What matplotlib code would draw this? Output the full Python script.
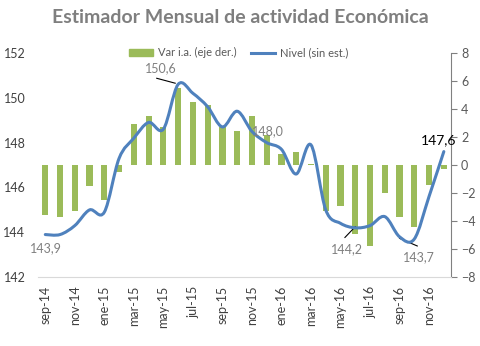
import numpy as np
import matplotlib
matplotlib.use("Agg")
import matplotlib.pyplot as plt
from matplotlib.path import Path
from matplotlib.patches import PathPatch
from matplotlib.lines import Line2D

plt.rcParams["font.family"] = ["Lato", "DejaVu Sans"]

# months sep-14 .. dic-16
months = ["sep-14", "oct-14", "nov-14", "dic-14",
          "ene-15", "feb-15", "mar-15", "abr-15", "may-15", "jun-15",
          "jul-15", "ago-15", "sep-15", "oct-15", "nov-15", "dic-15",
          "ene-16", "feb-16", "mar-16", "abr-16", "may-16", "jun-16",
          "jul-16", "ago-16", "sep-16", "oct-16", "nov-16", "dic-16"]

# Nivel (sin est.) - left axis
nivel = [143.9, 143.9, 144.3, 145.0,
         144.9, 147.3, 148.2, 148.9, 148.6, 150.6,
         150.2, 149.6, 148.7, 149.4, 148.5, 148.0,
         147.7, 146.6, 147.9, 145.0, 144.4, 144.2,
         144.3, 144.7, 143.8, 143.7, 145.6, 147.6]

# Var i.a. (eje der.) - right axis
var_ia = [-3.6, -3.7, -3.3, -1.5,
          -2.5, -0.5, 2.9, 3.5, 2.75, 5.5,
          4.5, 4.25, 2.75, 2.4, 3.5, 2.15,
          0.8, 0.9, 0.1, -3.3, -2.95, -4.9,
          -5.75, -2.0, -3.7, -4.45, -1.45, -0.25]

green = "#9BBB59"
blue = "#4F81BD"
gray = "#808080"

x = np.arange(len(months))

fig = plt.figure(figsize=(4.8, 3.46), dpi=100)
ax = fig.add_axes([0.079, 0.199, 0.861, 0.648])
ax2 = ax.twinx()

# bars on the right axis
ax2.bar(x, var_ia, width=0.42, color=green, zorder=2)
ax2.set_ylim(-8, 8)
ax2.set_yticks(np.arange(-8, 9, 2))
ax2.tick_params(axis="y", colors=gray, labelsize=9, length=4, direction="out", pad=3)
ax2.tick_params(axis="y", labelcolor="#595959")

# smooth line (Excel-like) on the left axis, drawn above the bars
ax.set_zorder(ax2.get_zorder() + 1)
ax.patch.set_visible(False)
pts = np.column_stack([x, nivel]).astype(float)
verts = [pts[0]]
codes = [Path.MOVETO]
n = len(pts)
for i in range(n - 1):
    p0 = pts[i - 1] if i > 0 else pts[i]
    p1 = pts[i]
    p2 = pts[i + 1]
    p3 = pts[i + 2] if i + 2 < n else pts[i + 1]
    verts += [p1 + (p2 - p0) / 6, p2 - (p3 - p1) / 6, p2]
    codes += [Path.CURVE4] * 3
ax.add_patch(PathPatch(Path(verts, codes), facecolor="none", edgecolor=blue,
                       lw=2.2, capstyle="round", joinstyle="round", zorder=3))

ax.set_xlim(-0.5, len(months) - 0.5)
ax.set_ylim(142, 152)
ax.set_yticks(np.arange(142, 153, 2))
ax.tick_params(axis="y", length=0, labelsize=9, labelcolor="#404040", pad=9)
ax.set_xticks(x[::2])
ax.set_xticklabels(months[::2], rotation=90)
ax.tick_params(axis="x", length=0, labelsize=9, labelcolor="#404040", pad=6)

for a in (ax, ax2):
    for s in ("top", "left"):
        a.spines[s].set_visible(False)
    a.spines["bottom"].set_color("#d9d9d9")
ax.spines["right"].set_visible(False)
ax2.spines["right"].set_color(gray)
ax2.spines["bottom"].set_visible(False)

# data labels
lbl = dict(fontsize=9, color=gray)
ax.text(0.05, 143.28, "143,9", ha="center", va="center", **lbl)
ax.text(7.8, 151.3, "150,6", ha="center", va="center", **lbl)
ax.plot([7.55, 8.8], [150.87, 150.65], color="black", lw=0.8)
ax.text(15.1, 148.53, "148,0", ha="center", va="center", **lbl)
ax.text(20.45, 143.25, "144,2", ha="center", va="center", **lbl)
ax.plot([20.3, 21.0], [143.77, 144.25], color="black", lw=0.8)
ax.text(25.3, 142.9, "143,7", ha="center", va="center", **lbl)
ax.plot([24.0, 25.2], [143.73, 143.39], color="black", lw=0.8)
ax.text(26.64, 148.12, "147,6", ha="center", va="center", fontsize=10, color="black")

# legend
handles = [plt.Rectangle((0, 0), 1, 1, color=green),
           Line2D([0], [0], color=blue, lw=2.2)]
ax.legend(handles, ["Var i.a. (eje der.)", "Nivel (sin est.)"], ncol=2,
          loc="center", bbox_to_anchor=(0.485, 1.0), frameon=False,
          fontsize=8, labelcolor="#595959", handlelength=2.2,
          handleheight=0.5, columnspacing=1.3, handletextpad=0.4)

fig.suptitle("Estimador Mensual de actividad Económica", x=0.5, y=0.975,
             fontsize=14, fontweight="bold", color="#7f7f7f")

fig.savefig("out.png", dpi=100)
